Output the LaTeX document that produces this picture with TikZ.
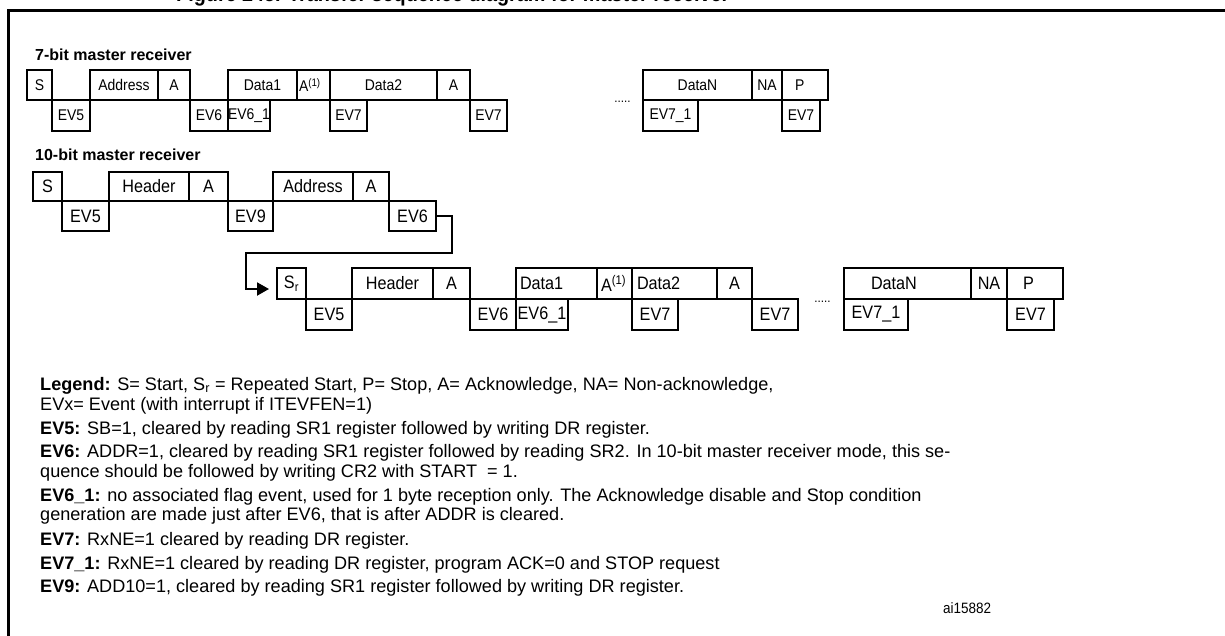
\documentclass[tikz,border=0pt]{standalone}
\usepackage{fontspec}
\setmainfont{Liberation Sans}[FakeStretch=0.9]
\newfontfamily\legfont{Liberation Sans}
\usetikzlibrary{arrows.meta}
\newcommand\seg[7]{\node[box,#7,minimum width={(#4-#3)*1pt},minimum height={(#6-#5)*1pt}] (#1) at ({(#3+#4)/2},{(#5+#6)/2}) {#2};}
\tikzset{
  box/.style={draw, line width=2.2pt, inner sep=0pt, font=\fontsize{18}{21}\selectfont},
  rowone/.style={line width=2.6pt, font=\fontsize{15.5}{18}\selectfont},
  lefttext/.style 2 args={text width={(#1)*1pt}, align=left},
  head/.style={anchor=base west, inner sep=0pt, font=\legfont\fontsize{16}{19}\selectfont\bfseries},
  legend/.style={anchor=base west, inner sep=0pt, font=\legfont\fontsize{18.1}{21}\selectfont},
  dots/.style={inner sep=0pt, font=\fontsize{13}{15}\selectfont},
  conn/.style={line width=2pt, -{Triangle[length=12pt,width=13pt]}},
  frame/.style={line width=3pt},
}
\begin{document}
\begin{tikzpicture}[x=1pt,y=-1pt]
\useasboundingbox (0,0) rectangle (1225,635);
\clip (0,0) rectangle (1225,635);
\fill[white] (0,0) rectangle (1225,635);
% cut-off title and frame
\node[anchor=base west, inner sep=0pt, font=\fontsize{22}{26}\selectfont\bfseries] (title) at (176,1.5) {Figure 245. Transfer sequence diagram for master receiver};
\coordinate (ftl) at (8,10.5);
\coordinate (fbl) at (8,660);
\coordinate (ftr) at (1250,10.5);
\draw[frame] (fbl) -- (ftl) -- (ftr);
% 7-bit
\node[head] (h7) at (35,60.5) {7-bit master receiver};
\seg{a1}{S}{27}{52}{70}{100}{rowone}
\seg{a2}{Address}{90}{158}{70}{100}{rowone}
\seg{a3}{A}{158}{190}{70}{100}{rowone}
\seg{a4}{Data1}{228}{297}{70}{100}{rowone}
\seg{a5}{A\textsuperscript{(1)}}{297}{330}{70}{100}{rowone,lefttext={29}{}}
\seg{a6}{Data2}{330}{437}{70}{100}{rowone}
\seg{a7}{A}{437}{470}{70}{100}{rowone}
\seg{a8}{DataN}{643}{752}{70}{100}{rowone}
\seg{a9}{NA}{752}{782}{70}{100}{rowone}
\seg{a10}{P}{782}{828}{70}{100}{rowone,lefttext={20}{}}
\seg{ae1}{EV5}{52}{90}{100}{131}{rowone}
\seg{ae2}{EV6}{190}{228}{100}{131}{rowone}
\seg{ae3}{EV6\_1}{228}{270}{100}{131}{rowone}
\seg{ae4}{EV7}{330}{367}{100}{131}{rowone}
\seg{ae5}{EV7}{470}{507}{100}{131}{rowone}
\seg{ae6}{EV7\_1}{643}{698}{100}{131}{rowone}
\seg{ae7}{EV7}{782}{820}{100}{131}{rowone}
\node[dots] (ad) at (622.5,102) {.....};
% 10-bit
\node[head] (h10) at (35,160.5) {10-bit master receiver};
\seg{b1}{S}{33}{62}{172}{201}{}
\seg{b2}{Header}{109}{189}{172}{201}{}
\seg{b3}{A}{189}{228}{172}{201}{}
\seg{b4}{Address}{273}{353}{172}{201}{}
\seg{b5}{A}{353}{389}{172}{201}{}
\seg{be1}{EV5}{62}{109}{201}{231}{}
\seg{be2}{EV9}{228}{273}{201}{231}{}
\seg{be3}{EV6}{389}{436}{201}{231}{}
% second line
\seg{c1}{S\textsubscript{r}}{277}{306}{268}{299}{}
\seg{c2}{Header}{352}{433}{268}{299}{}
\seg{c3}{A}{433}{470}{268}{299}{}
\seg{c4}{Data1}{516}{597}{268}{299}{lefttext={73}{}}
\seg{c5}{A\textsuperscript{(1)}}{597}{632}{268}{299}{lefttext={27}{}}
\seg{c6}{Data2}{632}{717}{268}{299}{lefttext={75}{}}
\seg{c7}{A}{717}{752}{268}{299}{}
\seg{c8}{DataN}{844}{971}{268}{299}{lefttext={73}{}}
\seg{c9}{NA}{971}{1007}{268}{299}{}
\seg{c10}{P}{1007}{1063}{268}{299}{lefttext={24}{}}
\seg{ce1}{EV5}{306}{352}{299}{330}{}
\seg{ce2}{EV6}{470}{516}{299}{330}{}
\seg{ce3}{EV6\_1}{516}{568}{299}{330}{}
\seg{ce4}{EV7}{632}{678}{299}{330}{}
\seg{ce5}{EV7}{752}{798}{299}{330}{}
\seg{ce6}{EV7\_1}{844}{908}{299}{330}{}
\seg{ce7}{EV7}{1007}{1054}{299}{330}{}
\node[dots] (cd) at (822.5,302) {.....};
% connector
\coordinate (k1) at (452,253);
\coordinate (k2) at (246,253);
\coordinate (tip) at (269,289);
\draw[conn] (be3.east) -| (k1) -- (k2) |- (tip);
% legend
\node[legend] (l1) at (40,390) {\textbf{Legend:} S= Start, S\textsubscript{r} = Repeated Start, P= Stop, A= Acknowledge, NA= Non-acknowledge,};
\node[legend] (l2) at (40,410) {EVx= Event (with interrupt if ITEVFEN=1)};
\node[legend] (l3) at (40,434) {\textbf{EV5:} SB=1, cleared by reading SR1 register followed by writing DR register.};
\node[legend] (l4) at (40,457) {\textbf{EV6:} ADDR=1, cleared by reading SR1 register followed by reading SR2. In 10-bit master receiver mode, this se-};
\node[legend] (l5) at (40,477) {quence should be followed by writing CR2 with START\ \ = 1.};
\node[legend] (l6) at (40,501) {\textbf{EV6\_1:} no associated flag event, used for 1 byte reception only. The Acknowledge disable and Stop condition};
\node[legend] (l7) at (40,520) {generation are made just after EV6, that is after ADDR is cleared.};
\node[legend] (l8) at (40,545) {\textbf{EV7:} RxNE=1 cleared by reading DR register.};
\node[legend] (l9) at (40,569) {\textbf{EV7\_1:} RxNE=1 cleared by reading DR register, program ACK=0 and STOP request};
\node[legend] (l10) at (40,592) {\textbf{EV9:} ADD10=1, cleared by reading SR1 register followed by writing DR register.};
\node[anchor=base west, inner sep=0pt, font=\fontsize{15}{17}\selectfont] (id) at (943,613) {ai15882};
\end{tikzpicture}
\end{document}
